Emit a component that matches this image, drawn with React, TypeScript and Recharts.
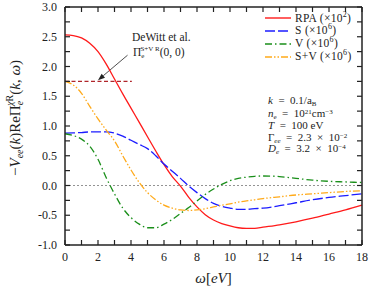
import React from 'react';
import { LineChart, Line, XAxis, YAxis, ReferenceLine, Legend, Label, Customized } from 'recharts';

const omega = [0, 0.5, 1, 1.5, 2, 2.5, 3, 3.5, 4, 4.5, 5, 5.5, 6, 6.5, 7, 7.5, 8, 8.5, 9, 9.5, 10, 10.5, 11, 11.5, 12, 13, 14, 15, 16, 17, 18];
const rpa = [2.53, 2.52, 2.48, 2.39, 2.25, 2.04, 1.79, 1.54, 1.3, 1.06, 0.82, 0.58, 0.35, 0.15, -0.01, -0.2, -0.36, -0.49, -0.58, -0.64, -0.68, -0.71, -0.72, -0.72, -0.7, -0.66, -0.61, -0.55, -0.48, -0.41, -0.33];
const sOnly = [0.88, 0.885, 0.89, 0.9, 0.9, 0.9, 0.88, 0.83, 0.76, 0.69, 0.62, 0.5, 0.36, 0.24, 0.12, -0.01, -0.12, -0.22, -0.3, -0.35, -0.38, -0.4, -0.4, -0.39, -0.38, -0.34, -0.29, -0.24, -0.2, -0.17, -0.14];
const vOnly = [0.87, 0.84, 0.78, 0.66, 0.44, 0.13, -0.14, -0.38, -0.54, -0.65, -0.71, -0.71, -0.65, -0.57, -0.47, -0.37, -0.26, -0.15, -0.06, 0.02, 0.08, 0.12, 0.14, 0.155, 0.16, 0.15, 0.12, 0.09, 0.07, 0.06, 0.05];
const sPlusV = [1.75, 1.69, 1.55, 1.33, 1.12, 0.93, 0.75, 0.5, 0.26, 0.05, -0.12, -0.24, -0.33, -0.38, -0.41, -0.42, -0.41, -0.39, -0.36, -0.33, -0.31, -0.28, -0.26, -0.24, -0.22, -0.19, -0.16, -0.14, -0.12, -0.1, -0.09];

// DeWitt et al. static limit and where the dashed marker stops
const deWitt = 1.75;
const deWittEnd = 4.05;

const xTicks = [0, 1, 2, 3, 4, 5, 6, 7, 8, 9, 10, 11, 12, 13, 14, 15, 16, 17, 18];
const yTicks = [-1, -0.75, -0.5, -0.25, 0, 0.25, 0.5, 0.75, 1, 1.25, 1.5, 1.75, 2, 2.25, 2.5, 2.75, 3];

const legendOrder = ['rpa', 's', 'v', 'sv'];

const data = omega.map((w, i) => ({ w, rpa: rpa[i], s: sOnly[i], v: vOnly[i], sv: sPlusV[i] }));

const FONT = '"Liberation Serif", "DejaVu Serif", serif';
const INK = '#222';
const TICK = 5;
const SP = '\u2002';

const styles: Record<string, { color: string; dash?: string; label: string; exp: string }> = {
  rpa: { color: '#ff1a1a', label: 'RPA', exp: '2' },
  s: { color: '#1c1cff', dash: '10 3', label: 'S', exp: '6' },
  v: { color: '#1a8f1a', dash: '7 3 1.5 3', label: 'V', exp: '6' },
  sv: { color: '#ffaa1a', dash: '7 2 1.5 2 1.5 2', label: 'S+V', exp: '6' },
};

// plot box, used only for the text annotations and the arrow
const PLOT = { left: 65, top: 7, right: 362, bottom: 245 };
const sx = (w: number) => PLOT.left + (w / 18) * (PLOT.right - PLOT.left);
const sy = (v: number) => PLOT.bottom - ((v + 1) / 4) * (PLOT.bottom - PLOT.top);

const BottomTick = (props: any) => {
  const { x, y, payload } = props;
  const major = payload.value % 2 === 0;
  return (
    <g>
      <line x1={x} x2={x} y1={y} y2={y - TICK} stroke={INK} strokeWidth={1.2} />
      {major && (
        <text x={x} y={y + 16} textAnchor="middle" fontSize={12} fontFamily={FONT} fill={INK}>
          {payload.value}
        </text>
      )}
    </g>
  );
};

const TopTick = (props: any) => {
  const { x, y } = props;
  return <line x1={x} x2={x} y1={y} y2={y + TICK} stroke={INK} strokeWidth={1.2} />;
};

const LeftTick = (props: any) => {
  const { x, y, payload } = props;
  const major = Math.round(payload.value * 2) === payload.value * 2;
  return (
    <g>
      <line x1={x} x2={x + TICK} y1={y} y2={y} stroke={INK} strokeWidth={1.2} />
      {major && (
        <text x={x - 8} y={y + 4} textAnchor="end" fontSize={12} fontFamily={FONT} fill={INK}>
          {payload.value.toFixed(1)}
        </text>
      )}
    </g>
  );
};

const RightTick = (props: any) => {
  const { x, y } = props;
  return <line x1={x} x2={x - TICK} y1={y} y2={y} stroke={INK} strokeWidth={1.2} />;
};

const LegendBox = () => (
  <div style={{ fontFamily: FONT, fontSize: 11.5, color: INK, lineHeight: 1 }}>
    {legendOrder.map((k) => {
      const st = styles[k];
      return (
        <div key={k} style={{ display: 'flex', alignItems: 'center', height: 12.8 }}>
          <svg width={26} height={8} style={{ flex: 'none' }}>
            <line x1={0} x2={26} y1={4} y2={4} stroke={st.color} strokeWidth={1.4} strokeDasharray={st.dash} />
          </svg>
          <span style={{ marginLeft: 4, whiteSpace: 'nowrap', letterSpacing: 0.3 }}>
            {st.label} (×10<sup style={{ fontSize: 8, lineHeight: 0 }}>{st.exp}</sup>)
          </span>
        </div>
      );
    })}
  </div>
);

const Annotations = () => {
  const x1 = sx(3.79), y1 = sy(2.19);
  const x2 = sx(2.0), y2 = sy(1.77);
  const ang = Math.atan2(y2 - y1, x2 - x1);
  const hl = 7, hw = 2.6;
  const bx = x2 - hl * Math.cos(ang), by = y2 - hl * Math.sin(ang);
  const head = [
    [x2, y2],
    [bx + hw * Math.sin(ang), by - hw * Math.cos(ang)],
    [bx - hw * Math.sin(ang), by + hw * Math.cos(ang)],
  ].map((p) => p.join(',')).join(' ');
  const t = { fontFamily: FONT, fontSize: 11, fill: INK };
  const sub = 7;
  const rows = [104, 116.5, 128.5, 140.5, 152];
  return (
    <g>
      <line x1={x1} y1={y1} x2={bx} y2={by} stroke={INK} strokeWidth={0.8} />
      <polygon points={head} fill={INK} />
      <text x={132} y={40.5} {...t} fontSize={11.5}>DeWitt et al.</text>
      <text x={133} y={55.5} {...t} fontSize={11.5}>
        Π<tspan fontSize={sub} dy={2.5}>e</tspan>
        <tspan fontSize={sub} dx={-4} dy={-7}>S+V R</tspan>
        <tspan dy={4.5}>(0, 0)</tspan>
      </text>
      <text x={268} y={rows[0]} {...t}>
        <tspan fontStyle="italic">k</tspan>{SP}={SP}0.1/a<tspan fontSize={sub} dy={2}>B</tspan>
      </text>
      <text x={268} y={rows[1]} {...t}>
        <tspan fontStyle="italic">n</tspan><tspan fontSize={sub} dy={2}>e</tspan>
        <tspan dy={-2}>{SP}={SP}10</tspan><tspan fontSize={sub} dy={-3}>21</tspan>
        <tspan dy={3}>cm</tspan><tspan fontSize={sub} dy={-3}>−3</tspan>
      </text>
      <text x={268} y={rows[2]} {...t}>
        <tspan fontStyle="italic">T</tspan>{SP}={SP}100 eV
      </text>
      <text x={268} y={rows[3]} {...t}>
        Γ<tspan fontSize={sub} fontStyle="italic" dy={2}>ee</tspan>
        <tspan dy={-2}>{SP}={SP}2.3{SP}×{SP}10</tspan><tspan fontSize={sub} dy={-3}>−2</tspan>
      </text>
      <text x={268} y={rows[4]} {...t}>
        <tspan fontStyle="italic">D</tspan><tspan fontSize={sub} fontStyle="italic" dy={2}>e</tspan>
        <tspan dy={-2}>{SP}={SP}3.2{SP}×{SP}10</tspan><tspan fontSize={sub} dy={-3}>−4</tspan>
      </text>
    </g>
  );
};

const YTitle = () => {
  const cx = 20;
  const cy = 118;
  return (
    <text x={cx} y={cy} transform={`rotate(-90, ${cx}, ${cy})`} textAnchor="middle" fontFamily={FONT} fontSize={15} fill={INK}>
      −<tspan fontStyle="italic">V</tspan>
      <tspan fontSize={10} fontStyle="italic" dy={3}>ee</tspan>
      <tspan dy={-3}>(</tspan><tspan fontStyle="italic">k</tspan>)ReΠ
      <tspan fontSize={10} fontStyle="italic" dy={3}>e</tspan>
      <tspan fontSize={10} dx={-5} dy={-10}><tspan fontStyle="italic">χ</tspan>R</tspan>
      <tspan dy={7}>(</tspan><tspan fontStyle="italic">k</tspan>, <tspan fontStyle="italic">ω</tspan>)
    </text>
  );
};

const XTitle = (props: any) => {
  const vb = props.viewBox;
  return (
    <text x={vb.x + vb.width / 2} y={vb.y + 38} textAnchor="middle" fontFamily={FONT} fontSize={15} fill={INK}>
      <tspan fontStyle="italic">ω</tspan>[<tspan fontStyle="italic">eV</tspan>]
    </text>
  );
};

export default function App() {
  return (
    <div style={{ position: 'absolute', left: 0, top: 0, background: '#fff' }}>
      <LineChart width={374} height={292} data={data} margin={{ top: 0, right: 0, bottom: 0, left: 0 }}>
        <XAxis dataKey="w" type="number" domain={[0, 18]} ticks={xTicks} interval={0} height={47}
          tickSize={0} tickMargin={0} tick={<BottomTick />} axisLine={{ stroke: INK, strokeWidth: 1.5 }} tickLine={false}>
          <Label content={<XTitle />} />
        </XAxis>
        <XAxis xAxisId="top" orientation="top" dataKey="w" type="number" domain={[0, 18]} ticks={xTicks} interval={0} height={7}
          tickSize={0} tickMargin={0} tick={<TopTick />} axisLine={{ stroke: INK, strokeWidth: 1.5 }} tickLine={false} />
        <YAxis type="number" domain={[-1, 3]} ticks={yTicks} interval={0} width={65}
          tickSize={0} tickMargin={0} tick={<LeftTick />} axisLine={{ stroke: INK, strokeWidth: 1.5 }} tickLine={false}>
          <Label content={<YTitle />} />
        </YAxis>
        <YAxis yAxisId="right" orientation="right" type="number" domain={[-1, 3]} ticks={yTicks} interval={0} width={12}
          tickSize={0} tickMargin={0} tick={<RightTick />} axisLine={{ stroke: INK, strokeWidth: 1.5 }} tickLine={false} />
        <ReferenceLine y={0} stroke="#777" strokeWidth={0.8} strokeDasharray="2 2" />
        <ReferenceLine segment={[{ x: 0, y: deWitt }, { x: deWittEnd, y: deWitt }]} stroke="#b0252a" strokeWidth={1.2} strokeDasharray="4 2.5" />
        <Line dataKey="rpa" type="monotone" stroke={styles.rpa.color} strokeWidth={1.3} dot={false} isAnimationActive={false} />
        <Line dataKey="s" type="monotone" stroke={styles.s.color} strokeWidth={1.3} strokeDasharray={styles.s.dash} dot={false} isAnimationActive={false} />
        <Line dataKey="v" type="monotone" stroke={styles.v.color} strokeWidth={1.3} strokeDasharray={styles.v.dash} dot={false} isAnimationActive={false} />
        <Line dataKey="sv" type="monotone" stroke={styles.sv.color} strokeWidth={1.3} strokeDasharray={styles.sv.dash} dot={false} isAnimationActive={false} />
        <Line xAxisId="top" yAxisId="right" dataKey="rpa" stroke="none" dot={false} activeDot={false} legendType="none" isAnimationActive={false} />
        <Customized component={Annotations} />
        <Legend layout="horizontal" verticalAlign="middle" align="center" content={<LegendBox />}
          wrapperStyle={{ left: 265, top: 12, width: 108, height: 52 }} />
      </LineChart>
    </div>
  );
}
